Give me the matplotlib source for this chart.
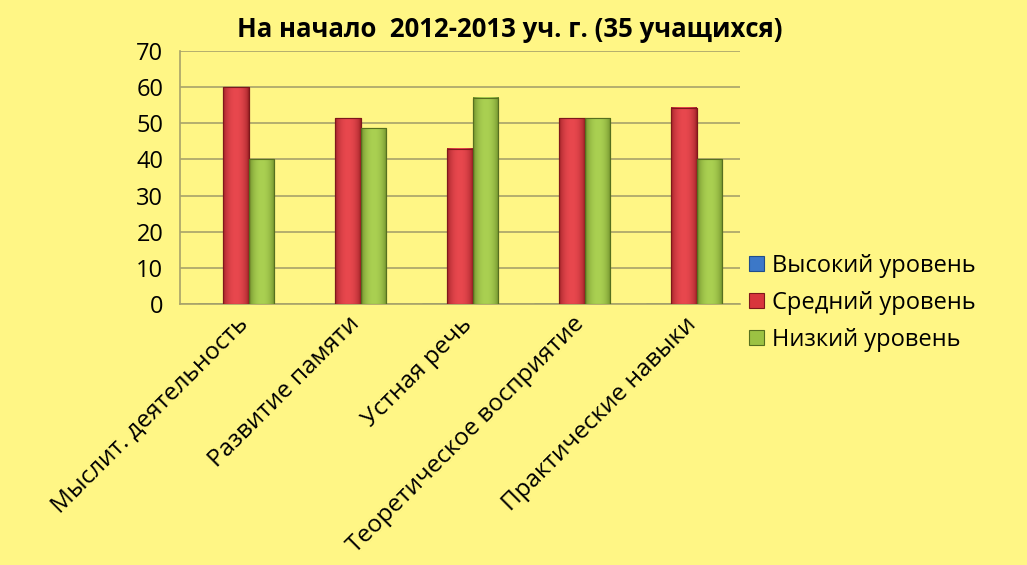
import matplotlib.pyplot as plt
from matplotlib.colors import LinearSegmentedColormap
import numpy as np

plt.rcParams['font.family'] = ['Open Sans', 'DejaVu Sans']

# data (35 pupils, percentages)
categories = ['Мыслит. деятельность', 'Развитие памяти', 'Устная речь',
              'Теоретическое восприятие', 'Практические навыки']
high = [0, 0, 0, 0, 0]
medium = [60, 51.4, 42.9, 51.4, 54.3]
low = [40, 48.6, 57.1, 51.4, 40]
series_names = ['Высокий уровень', 'Средний уровень', 'Низкий уровень']
yticks = [0, 10, 20, 30, 40, 50, 60, 70]

bg = '#FFF685'
grid_col = '#A8A36A'

fig = plt.figure(figsize=(10.27, 5.65), dpi=100, facecolor=bg)
ax = fig.add_axes([0.1753, 0.4619, 0.5452, 0.4478])
ax.set_facecolor(bg)

x = np.arange(len(categories))
w = 0.228
b_high = ax.bar(x - w, high, w, color='#3C78C8', edgecolor='#1F4E8C',
                linewidth=0.8, label=series_names[0], zorder=3)
b_med = ax.bar(x, medium, w, color='#D8363C', edgecolor='#7E181B',
               linewidth=0.8, label=series_names[1], zorder=3)
b_low = ax.bar(x + w, low, w, color='#9CC243', edgecolor='#566F1F',
               linewidth=0.8, label=series_names[2], zorder=3)

# bevel-like shading on the bars
grad = np.linspace(0, 1, 64)
grad = np.sin(grad * np.pi) ** 0.5
grad = grad.reshape(1, -1)
red_cmap = LinearSegmentedColormap.from_list('r', ['#8E1A1F', '#E8484E'])
green_cmap = LinearSegmentedColormap.from_list('g', ['#5F7D20', '#AAD052'])
for bars, cm in [(b_med, red_cmap), (b_low, green_cmap)]:
    for p in bars:
        x0, y0 = p.get_x(), p.get_y()
        ax.imshow(grad, extent=[x0, x0 + p.get_width(), y0, y0 + p.get_height()],
                  cmap=cm, aspect='auto', zorder=3.2, interpolation='bicubic')
        ax.add_patch(plt.Rectangle((x0, y0), p.get_width(), p.get_height(),
                                   fill=False, edgecolor=p.get_edgecolor(),
                                   linewidth=0.8, zorder=3.4))
ax.set_xlim(-0.5, len(categories) - 0.5)
ax.set_ylim(0, 70)

ax.set_yticks(yticks)
ax.tick_params(axis='y', length=0, labelsize=17, pad=12)
ax.tick_params(axis='x', length=0, pad=6)
ax.set_xticks(x)
ax.set_xticklabels(categories, rotation=45, ha='right', rotation_mode='anchor',
                   fontsize=17.5)
ax.yaxis.grid(True, color=grid_col, linewidth=1.2, zorder=0)

for s in ['top', 'right']:
    ax.spines[s].set_visible(False)
ax.spines['left'].set_color(grid_col)
ax.spines['bottom'].set_color(grid_col)
ax.spines['left'].set_linewidth(1.2)
ax.spines['bottom'].set_linewidth(1.2)

fig.text(0.496, 0.947, 'На начало  2012-2013 уч. г. (35 учащихся)',
         ha='center', va='center', fontsize=18.5, fontweight='bold')

fig.legend(loc='upper left', bbox_to_anchor=(0.709, 0.588), frameon=False,
           fontsize=17, handlelength=0.6, handleheight=0.6, handletextpad=0.35,
           labelspacing=0.55)

plt.savefig('out.png', dpi=100, facecolor=bg)
plt.close()
